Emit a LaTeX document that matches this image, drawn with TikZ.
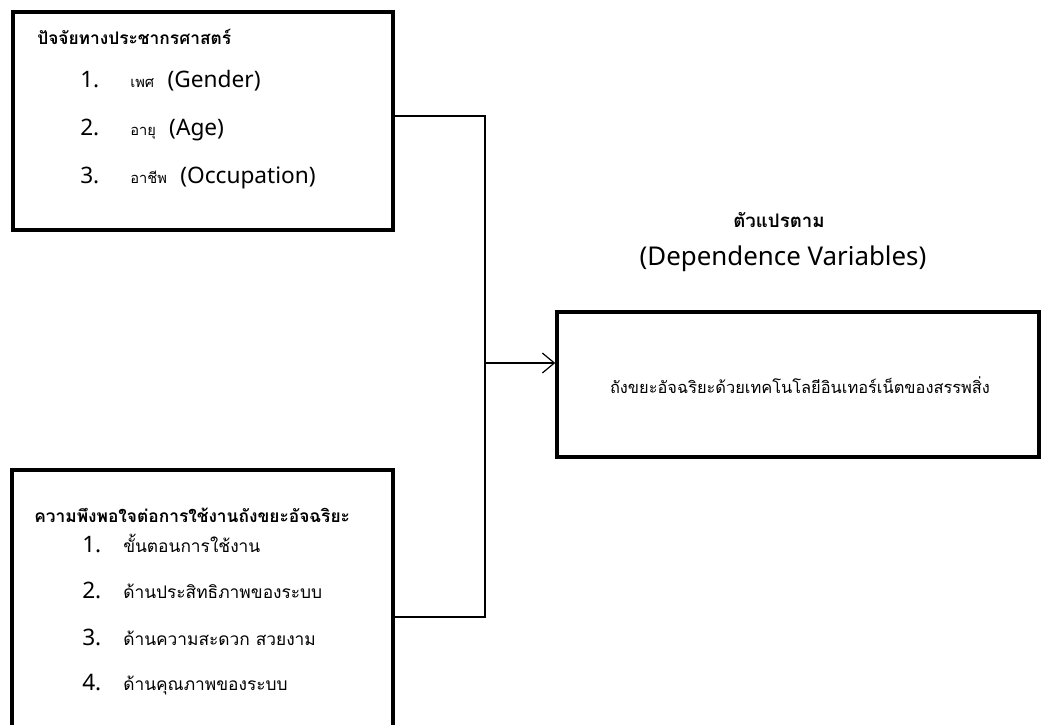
\documentclass[tikz,border=0pt]{standalone}
\usepackage{fontspec}
\setmainfont{Noto Sans}
\newfontfamily\thaifont[Script=Thai]{Loma}
\usetikzlibrary{arrows.meta,positioning}
\newcommand\thaismall[1]{{\thaifont\fontsize{11}{13}\selectfont #1}\hspace{10pt}}

\begin{document}
\begin{tikzpicture}[
    x=0.75pt, y=-0.75pt,
    box/.style={rectangle, draw=black, line width=2.6pt, inner sep=0pt},
    heading/.style={anchor=base west, inner sep=0pt, font=\thaifont\bfseries\fontsize{13}{15}\selectfont},
    num/.style={anchor=base west, inner sep=0pt, font=\fontsize{17}{19}\selectfont},
    item/.style={anchor=base west, inner sep=0pt, font=\fontsize{17}{19}\selectfont},
    thaiitem/.style={anchor=base west, inner sep=0pt, font=\thaifont\fontsize{13}{15}\selectfont},
    link/.style={line width=0.9pt},
    arrow/.style={line width=0.9pt, -{Straight Barb[length=9pt,width=15pt]}}
]
\useasboundingbox (0,0) rectangle (1041,724);

% Boxes
\node (demo) [box, minimum width=285pt, minimum height=163.5pt] at (203,121) {};
\node (sat) [box, minimum width=285.75pt, minimum height=220.5pt] at (202.5,617) {};
\node (dep) [box, minimum width=361.5pt, minimum height=108.75pt] at (798,384.5) {};

% Demographic factors
\node (demohead) [heading] at (37,45) {ปัจจัยทางประชากรศาสตร์};
\node (n1) [num] at (80,87) {1.};
\node (g1) [item] at (130,87) {\thaismall{เพศ}(Gender)};
\node (n2) [num] at (80,135) {2.};
\node (g2) [item] at (130,135) {\thaismall{อายุ}(Age)};
\node (n3) [num] at (80,183) {3.};
\node (g3) [item] at (130,183) {\thaismall{อาชีพ}(Occupation)};

% Satisfaction
\node (sathead) [heading] at (34,522) {ความพึงพอใจต่อการใช้งานถังขยะอัจฉริยะ};
\node (m1) [num] at (82,552) {1.};
\node (s1) [thaiitem] at (123,552) {ขั้นตอนการใช้งาน};
\node (m2) [num] at (82,598) {2.};
\node (s2) [thaiitem] at (123,598) {ด้านประสิทธิภาพของระบบ};
\node (m3) [num] at (82,645) {3.};
\node (s3) [thaiitem] at (123,645) {ด้านความสะดวก สวยงาม};
\node (m4) [num] at (82,690) {4.};
\node (s4) [thaiitem] at (123,690) {ด้านคุณภาพของระบบ};

% Dependent variable
\node (deptext) [anchor=base, font=\thaifont\fontsize{12.3}{14}\selectfont] at (800,393) {ถังขยะอัจฉริยะด้วยเทคโนโลยีอินเทอร์เน็ตของสรรพสิ่ง};
\node (depeng) [anchor=base, font=\fontsize{19.4}{21}\selectfont] at (783,265) {(Dependence Variables)};
\node (depthai) [anchor=base, font=\thaifont\bfseries\fontsize{14}{16}\selectfont] at (779,227) {ตัวแปรตาม};

% Arrows
\coordinate (join) at (485,363);
\draw [link] ([yshift=3.75pt]demo.east) -| (join);
\draw [link] (sat.east) -| (join);
\draw [arrow] (join) -- (join -| dep.west);

\end{tikzpicture}
\end{document}
